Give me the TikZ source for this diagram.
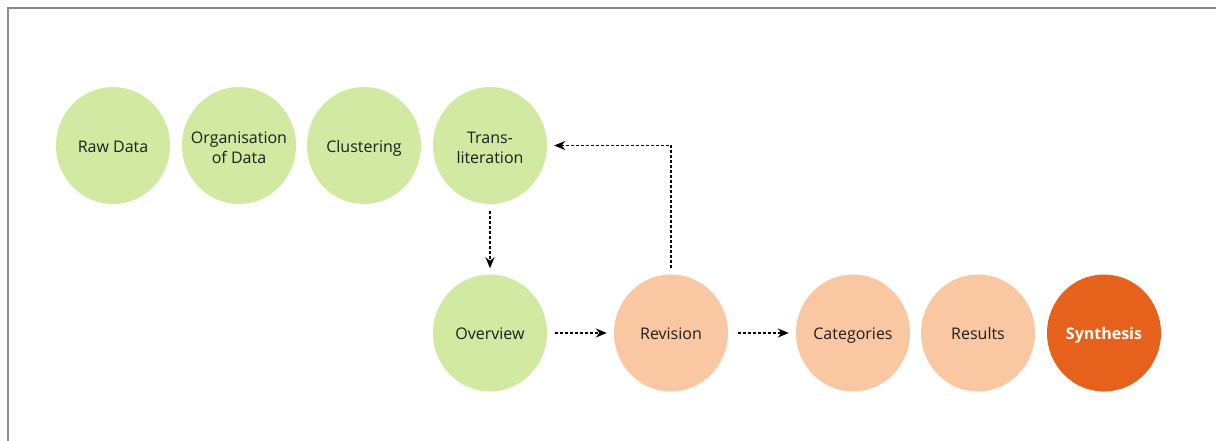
\documentclass[tikz,border=0pt]{standalone}
\usepackage{fontspec}
\setmainfont{Open Sans}
\usetikzlibrary{arrows.meta,shapes.geometric}
\definecolor{stepgreen}{RGB}{209,233,160}
\definecolor{steppeach}{RGB}{249,200,162}
\definecolor{steporange}{RGB}{230,97,28}
\definecolor{frameline}{RGB}{138,138,138}
\definecolor{txt}{RGB}{30,30,30}
\begin{document}
\begin{tikzpicture}[x=1pt,y=-1pt,
  stage/.style={ellipse, minimum width=114pt, minimum height=117pt, inner sep=-14pt,
    align=center, font=\fontsize{16}{20}\selectfont, text=txt},
  oneline/.style={text height=13.4pt, text depth=0pt},
  twoline/.style={text height=36pt, text depth=0pt},
  greenstage/.style={stage, fill=stepgreen},
  peachstage/.style={stage, fill=steppeach},
  finalstage/.style={stage, fill=steporange, text=white, font=\fontsize{16}{20}\selectfont\bfseries},
  flow/.style={line width=1.8pt, dash pattern=on 3pt off 2pt, -{Stealth[length=11pt,width=9pt,inset=3.5pt]}}
]
\useasboundingbox (0,0) rectangle (1216,441);
% outer frame (open on the right and bottom)
\draw[frameline, line width=2pt] (8,460) -- (8,8) -- (1230,8);

% upper row
\node[greenstage, oneline] (raw)  at (113,145.5) {Raw Data};
\node[greenstage, twoline] (org)  at (239,145.5) {Organisation\\of Data};
\node[greenstage, oneline] (clu)  at (364,145.5) {Clustering};
\node[greenstage, twoline] (tra)  at (490,145.5) {Trans-\\literation};

% lower row
\node[greenstage, oneline]  (ovr) at (490,333) {Overview};
\node[peachstage, oneline]  (rev) at (671,333) {Revision};
\node[peachstage, oneline]  (cat) at (853,333) {Categories};
\node[peachstage, oneline]  (res) at (978,333) {Results};
\node[finalstage, oneline]  (syn) at (1104,333) {Synthesis};

% connectors
\draw[flow] ([yshift=-7pt]tra.south) -- ([yshift=6pt]ovr.north);
\draw[flow] ([xshift=8pt]ovr.east) -- ([xshift=-7pt]rev.west);
\draw[flow] ([xshift=10pt]rev.east) -- ([xshift=-7pt]cat.west);
\draw[flow] ([yshift=6pt]rev.north) |- ([xshift=7pt]tra.east);
\end{tikzpicture}
\end{document}
